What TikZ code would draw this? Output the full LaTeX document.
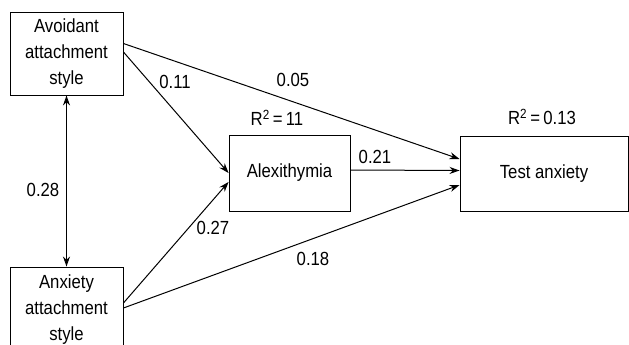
\documentclass[tikz,border=0pt]{standalone}
\usepackage{fontspec}
\setmainfont{Liberation Sans}[FakeStretch=0.88]
\usetikzlibrary{arrows.meta}
\begin{document}
\begin{tikzpicture}[x=1pt,y=-1pt,
  box/.style={draw,line width=0.9pt,inner sep=0pt,align=center,font=\fontsize{19}{26}\selectfont},
  lbl/.style={inner sep=0pt,font=\fontsize{19}{22}\selectfont},
  arr/.style={line width=1pt,-{Stealth[length=10pt,width=7pt]}},
  darr/.style={line width=1pt,{Stealth[length=10pt,width=7pt]}-{Stealth[length=10pt,width=7pt]}}]
\useasboundingbox (0,0) rectangle (629,345);
\node[box,minimum width=113pt,minimum height=83pt] (av) at (66.5,53.5) {Avoidant\\attachment\\style};
\node[box,minimum width=113pt,minimum height=86pt] (ax) at (66.5,310) {Anxiety\\attachment\\style};
\node[box,minimum width=121pt,minimum height=76pt] (al) at (289.5,173) {Alexithymia};
\node[box,minimum width=168pt,minimum height=75pt] (ta) at (544,173.5) {Test anxiety};
\draw[darr] (av.south) -- (ax.north);
\draw[arr] ([yshift=1.5pt]av.east) -- (al.west);
\draw[arr] ([yshift=10pt]av.east) -- ([yshift=14.5pt]ta.west);
\draw[arr] ([yshift=7pt]ax.east) -- ([yshift=-9pt]al.west);
\draw[arr] ([yshift=2pt]ax.east) -- ([yshift=-11.5pt]ta.west);
\draw[arr] ([yshift=3pt]al.east) -- ([yshift=3pt]ta.west);
\node[lbl] (l11) at (175,82) {0.11};
\node[lbl] (l05) at (293,80) {0.05};
\node[lbl] (r1) at (277,118) {R\textsuperscript{2}\,=\,11};
\node[lbl] (l28) at (43,190) {0.28};
\node[lbl] (l27) at (213,228) {0.27};
\node[lbl] (l18) at (313,259) {0.18};
\node[lbl] (l21) at (375,157) {0.21};
\node[lbl] (r2) at (542,117) {R\textsuperscript{2}\,=\,0.13};
\end{tikzpicture}
\end{document}
